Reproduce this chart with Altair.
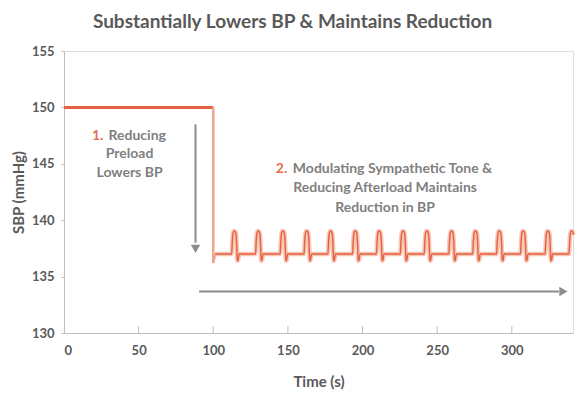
import altair as alt
import pandas as pd

# ---- data ----
x_ticks = [0, 50, 100, 150, 200, 250, 300]
y_ticks = [130, 135, 140, 145, 150, 155]

# pre-treatment level and the drop at t = 100 s
top_t = [0, 100]
top_v = [150, 150]
drop_t = [100, 100, 101.2]
drop_v = [150, 136.2, 137]

# pulse peaks (s) and the shape of one pulse (offset s, mmHg)
beat_peaks = [114.5, 130.5, 147, 163, 179, 195.5, 211.5, 227.5, 243.5,
              260, 276, 292, 308, 324.5, 340.5]
pulse_dt = [-2.2, -1.7, -1.3, -0.6, 0.2, 0.8, 1.2, 1.6, 2.2, 2.8]
pulse_v = [137.0, 138.2, 138.8, 139.05, 139.0, 138.7, 137.8, 136.4, 136.5, 137.0]
last_cut = 1.0

# arrows
varrow_t = [88.1]
varrow_y = [148.5]
varrow_y2 = [138.0]
varrow_head = [137.45]
harrow_y = [133.68]
harrow_t = [90.5]
harrow_t2 = [331.5]
harrow_head = [334.6]

# annotation texts
ann1_num = ["1."]
ann1_lines = ["Reducing", "Preload", "Lowers BP"]
ann1_y = [147.5, 145.85, 144.15]
ann2_num = ["2."]
ann2_lines = ["Modulating Sympathetic Tone &", "Reducing Afterload Maintains", "Reduction in BP"]
ann2_y = [144.5, 142.83, 141.1]

ORANGE = "#e4623f"
HALO = "#f6bca9"
GRAY_TXT = "#7f7f7f"
AX_TXT = "#595959"
FONT = "Lato"

# ---- build tables ----
wave_t = [drop_t[-1]]
wave_v = [drop_v[-1]]
for i, p in enumerate(beat_peaks):
    for dt, v in zip(pulse_dt, pulse_v):
        if i == len(beat_peaks) - 1 and dt > last_cut:
            break
        wave_t.append(p + dt)
        wave_v.append(v)

top_df = pd.DataFrame({"t": top_t, "v": top_v, "o": range(len(top_t))})
drop_df = pd.DataFrame({"t": drop_t, "v": drop_v, "o": range(len(drop_t))})
wave_df = pd.DataFrame({"t": wave_t, "v": wave_v, "o": range(len(wave_t))})

xs = alt.Scale(domain=[0, 341], nice=False, zero=False)
ys = alt.Scale(domain=[130, 155], nice=False, zero=False)

X = alt.X("t:Q", scale=xs, title="Time (s)",
          axis=alt.Axis(values=x_ticks, tickSize=0, labelPadding=11, grid=False,
                        domainColor="#bfbfbf", labelColor=AX_TXT, labelFontSize=13,
                        labelFont=FONT, labelFontWeight="bold",
                        titleFont=FONT, titleFontSize=15, titleColor=AX_TXT,
                        titleFontWeight="bold", titlePadding=17))
Y = alt.Y("v:Q", scale=ys, title="SBP (mmHg)",
          axis=alt.Axis(values=y_ticks, tickSize=3, tickColor="#bfbfbf", labelPadding=7,
                        grid=False, domainColor="#bfbfbf", labelColor=AX_TXT,
                        labelFontSize=13, labelFont=FONT, labelFontWeight="bold",
                        titleFont=FONT, titleFontSize=15, titleColor=AX_TXT,
                        titleFontWeight="bold", titlePadding=5))

base_axes = alt.Chart(top_df).mark_line(color=ORANGE, strokeWidth=3, clip=False).encode(
    x=X, y=Y, order="o:Q")

drop_line = alt.Chart(drop_df).mark_line(color="#f0a58c", strokeWidth=2.5, clip=False).encode(
    x="t:Q", y="v:Q", order="o:Q")

wave_halo = alt.Chart(wave_df).mark_line(color=HALO, strokeWidth=4.5, opacity=0.85,
                                         clip=False, interpolate="monotone").encode(
    x="t:Q", y="v:Q", order="o:Q")
wave_core = alt.Chart(wave_df).mark_line(color=ORANGE, strokeWidth=1.4, clip=False,
                                         interpolate="monotone").encode(
    x="t:Q", y="v:Q", order="o:Q")

# inside x ticks
xt_df = pd.DataFrame({"t": x_ticks[1:], "y0": [130] * (len(x_ticks) - 1),
                      "y1": [130.62] * (len(x_ticks) - 1)})
xtick_rules = alt.Chart(xt_df).mark_rule(color="#bfbfbf", strokeWidth=1).encode(
    x="t:Q", y="y0:Q", y2="y1:Q")

# arrows
va_df = pd.DataFrame({"t": varrow_t, "y0": varrow_y, "y1": varrow_y2, "yh": varrow_head})
va_rule = alt.Chart(va_df).mark_rule(color="#8c8c8c", strokeWidth=2).encode(
    x="t:Q", y="y0:Q", y2="y1:Q")
va_head = alt.Chart(va_df).mark_point(shape="triangle-down", filled=True, color="#8c8c8c",
                                      size=90, opacity=1).encode(x="t:Q", y="yh:Q")
ha_df = pd.DataFrame({"t0": harrow_t, "t1": harrow_t2, "th": harrow_head, "y": harrow_y})
ha_rule = alt.Chart(ha_df).mark_rule(color="#8c8c8c", strokeWidth=2).encode(
    x="t0:Q", x2="t1:Q", y="y:Q")
ha_head = alt.Chart(ha_df).mark_point(shape="triangle-right", filled=True, color="#8c8c8c",
                                      size=90, opacity=1).encode(x="th:Q", y="y:Q")

# annotations
txt_kw = dict(font=FONT, fontSize=14, fontWeight="bold", baseline="middle")
a1n = alt.Chart(pd.DataFrame({"t": [26.4], "v": [ann1_y[0]], "s": ann1_num})).mark_text(
    align="right", color="#e07050", **txt_kw).encode(x="t:Q", y="v:Q", text="s:N")
a1f = alt.Chart(pd.DataFrame({"t": [29.8], "v": [ann1_y[0]], "s": ann1_lines[:1]})).mark_text(
    align="left", color=GRAY_TXT, **txt_kw).encode(x="t:Q", y="v:Q", text="s:N")
a1r = alt.Chart(pd.DataFrame({"t": [43.9, 43.9], "v": ann1_y[1:], "s": ann1_lines[1:]})).mark_text(
    align="center", color=GRAY_TXT, **txt_kw).encode(x="t:Q", y="v:Q", text="s:N")

a2n = alt.Chart(pd.DataFrame({"t": [149.6], "v": [ann2_y[0]], "s": ann2_num})).mark_text(
    align="right", color="#e07050", **txt_kw).encode(x="t:Q", y="v:Q", text="s:N")
a2f = alt.Chart(pd.DataFrame({"t": [153.3], "v": [ann2_y[0]], "s": ann2_lines[:1]})).mark_text(
    align="left", color=GRAY_TXT, **txt_kw).encode(x="t:Q", y="v:Q", text="s:N")
a2r = alt.Chart(pd.DataFrame({"t": [215.1, 215.1], "v": ann2_y[1:], "s": ann2_lines[1:]})).mark_text(
    align="center", color=GRAY_TXT, **txt_kw).encode(x="t:Q", y="v:Q", text="s:N")

chart = alt.layer(
    base_axes, xtick_rules, drop_line, wave_halo, wave_core,
    va_rule, va_head, ha_rule, ha_head,
    a1n, a1f, a1r, a2n, a2f, a2r,
).properties(
    width=509, height=282,
    autosize=alt.AutoSizeParams(type="none"),
    padding={"left": 56, "top": 43, "right": 6, "bottom": 61},
    title=alt.TitleParams("Substantially Lowers BP & Maintains Reduction",
                          font=FONT, fontSize=19, fontWeight="bold", color=AX_TXT,
                          anchor="middle", frame="group", dx=-26, offset=-6,
                          baseline="bottom"),
).configure_view(stroke=None).configure(background="white")

chart.save("out.html", embed_options={"renderer": "svg", "actions": False})
